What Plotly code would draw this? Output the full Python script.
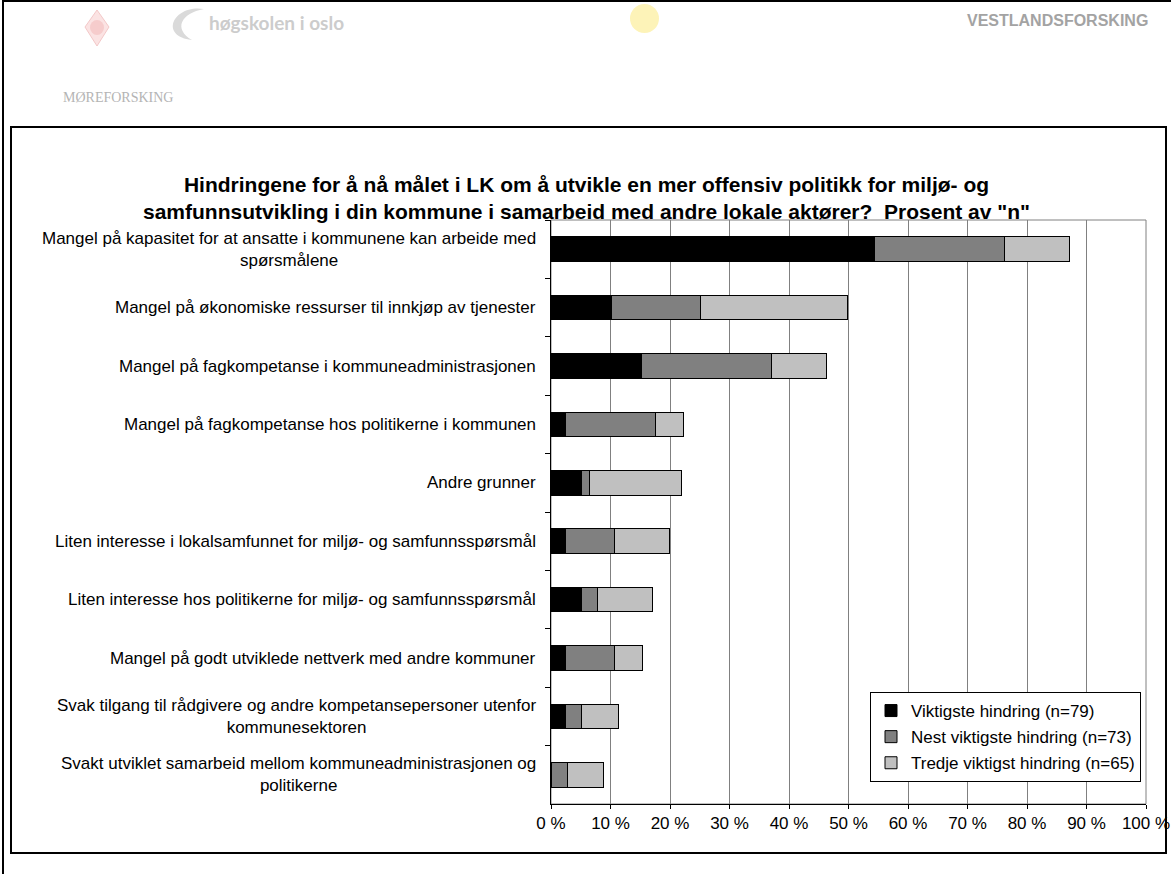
import plotly.graph_objects as go

categories = [
    "Mangel på kapasitet for at ansatte i kommunene kan arbeide med<br>spørsmålene",
    "Mangel på økonomiske ressurser til innkjøp av tjenester",
    "Mangel på fagkompetanse i kommuneadministrasjonen",
    "Mangel på fagkompetanse hos politikerne i kommunen",
    "Andre grunner",
    "Liten interesse i lokalsamfunnet for miljø- og samfunnsspørsmål",
    "Liten interesse hos politikerne for miljø- og samfunnsspørsmål",
    "Mangel på godt utviklede nettverk med andre kommuner",
    "Svak tilgang til rådgivere og andre kompetansepersoner utenfor<br>kommunesektoren",
    "Svakt utviklet samarbeid mellom kommuneadministrasjonen og<br>politikerne",
]
series_names = [
    "Viktigste hindring (n=79)",
    "Nest viktigste hindring (n=73)",
    "Tredje viktigst hindring (n=65)",
]
viktigste = [54.4, 10.1, 15.2, 2.5, 5.1, 2.5, 5.1, 2.5, 2.5, 0.0]
nest = [21.9, 15.1, 21.9, 15.1, 1.4, 8.2, 2.7, 8.2, 2.7, 2.7]
tredje = [10.8, 24.6, 9.2, 4.6, 15.4, 9.2, 9.2, 4.6, 6.2, 6.2]
x_ticks = list(range(0, 101, 10))
x_ticktext = [f"{v} %" for v in x_ticks]
title_text = ("Hindringene for å nå målet i LK om å utvikle en mer offensiv politikk for miljø- og<br>"
              "samfunnsutvikling i din kommune i samarbeid med andre lokale aktører?  Prosent av \"n\"")

W, H = 1171, 874
def px(x):
    return x / W
def py(y):
    return 1 - y / H

FONT = "Arial, Liberation Sans, sans-serif"
colors = ["#000000", "#808080", "#C0C0C0"]

fig = go.Figure()
for name, vals, col in zip(series_names, [viktigste, nest, tredje], colors):
    fig.add_trace(go.Bar(
        y=categories, x=vals, name=name, orientation="h",
        marker=dict(color=col, line=dict(color="#000000", width=1)),
        legendgroup=name, hoverinfo="x+y",
    ))

PL, PR, PT, PB = 551, 1146, 220, 804

fig.update_layout(
    template="none",
    width=W, height=H, autosize=False,
    margin=dict(l=0, r=0, t=0, b=0),
    paper_bgcolor="white", plot_bgcolor="white",
    barmode="stack", bargap=0.58,
    font=dict(family=FONT, size=17, color="black"),
    showlegend=True,
    legend=dict(
        x=px(870), y=py(692), xanchor="left", yanchor="top",
        bgcolor="white", bordercolor="black", borderwidth=1,
        font=dict(family=FONT, size=17, color="black"),
        traceorder="grouped", tracegroupgap=1,
        itemwidth=30,
    ),
    xaxis=dict(
        domain=[px(PL), px(PR)], range=[0, 100],
        tickvals=x_ticks, ticktext=x_ticktext,
        showgrid=True, gridcolor="#808080", gridwidth=1,
        showline=True, linecolor="black", linewidth=1,
        ticks="outside", ticklen=4, tickcolor="black",
        tickfont=dict(family=FONT, size=17, color="black"),
        zeroline=False, automargin=False, fixedrange=True,
    ),
    yaxis=dict(
        domain=[py(PB), py(PT)],
        categoryorder="array", categoryarray=categories,
        autorange="reversed",
        showticklabels=False,
        showgrid=False, showline=True, linecolor="black", linewidth=1,
        ticks="outside", ticklen=5, tickcolor="black", tickson="boundaries",
        zeroline=False, automargin=False, fixedrange=True,
    ),
)

shapes = []
# outer page frame
shapes.append(dict(type="rect", xref="paper", yref="paper", x0=px(3), x1=px(1172), y0=py(885), y1=py(1),
                   line=dict(color="black", width=2), layer="below"))
# chart box
shapes.append(dict(type="rect", xref="paper", yref="paper", x0=px(11), x1=px(1166), y0=py(853), y1=py(127),
                   line=dict(color="black", width=2), layer="below"))
# plot area border (gray)
shapes.append(dict(type="rect", xref="paper", yref="paper", x0=px(PL), x1=px(PR), y0=py(PB), y1=py(PT),
                   line=dict(color="#808080", width=1), layer="below"))
# faded logos
shapes.append(dict(type="path", xref="paper", yref="paper",
                   path=f"M {px(97)} {py(10)} L {px(109)} {py(27)} L {px(97)} {py(46)} L {px(85)} {py(27)} Z",
                   fillcolor="#fbe3e3", line=dict(color="#f3c8c8", width=1), layer="below"))
shapes.append(dict(type="circle", xref="paper", yref="paper", x0=px(90), x1=px(104), y0=py(35), y1=py(20),
                   fillcolor="#f6cccc", line=dict(width=0), layer="below"))
shapes.append(dict(type="circle", xref="paper", yref="paper", x0=px(630), x1=px(659), y0=py(33), y1=py(4),
                   fillcolor="#fdf3b8", line=dict(width=0), layer="below"))
shapes.append(dict(type="path", xref="paper", yref="paper",
                   path=f"M {px(204)} {py(9)} C {px(174)} {py(4)} {px(158)} {py(36)} {px(192)} {py(40)} "
                        f"C {px(173)} {py(29)} {px(181)} {py(13)} {px(204)} {py(9)} Z",
                   fillcolor="#dadada", line=dict(width=0), layer="below"))
fig.update_layout(shapes=shapes)

annotations = []
for c in categories:
    annotations.append(dict(x=px(538), y=c, xref="paper", yref="y", text=c, showarrow=False,
                            xanchor="right", yanchor="middle", align="center",
                            font=dict(family=FONT, size=17, color="black")))
annotations.append(dict(x=px(586), y=py(198), xref="paper", yref="paper", text=f"<b>{title_text}</b>",
                        showarrow=False, xanchor="center", yanchor="middle", align="center",
                        font=dict(family=FONT, size=21, color="black")))
annotations.append(dict(x=px(118), y=py(97), xref="paper", yref="paper", text="MØREFORSKING",
                        showarrow=False, xanchor="center", yanchor="middle",
                        font=dict(family="Liberation Serif, serif", size=14, color="#b4b4b4")))
annotations.append(dict(x=px(276), y=py(22), xref="paper", yref="paper", text="<b>høgskolen i oslo</b>",
                        showarrow=False, xanchor="center", yanchor="middle",
                        font=dict(family="Lato, sans-serif", size=19, color="#cccccc")))
annotations.append(dict(x=px(1057), y=py(21), xref="paper", yref="paper", text="<b>VESTLANDSFORSKING</b>",
                        showarrow=False, xanchor="center", yanchor="middle",
                        font=dict(family="Liberation Sans, Arial, sans-serif", size=16, color="#a3a3a3")))
fig.update_layout(annotations=annotations)

fig.write_html("out.html", config={"displayModeBar": False},
               post_script="document.body.style.margin='0';document.body.style.overflow='hidden';")
